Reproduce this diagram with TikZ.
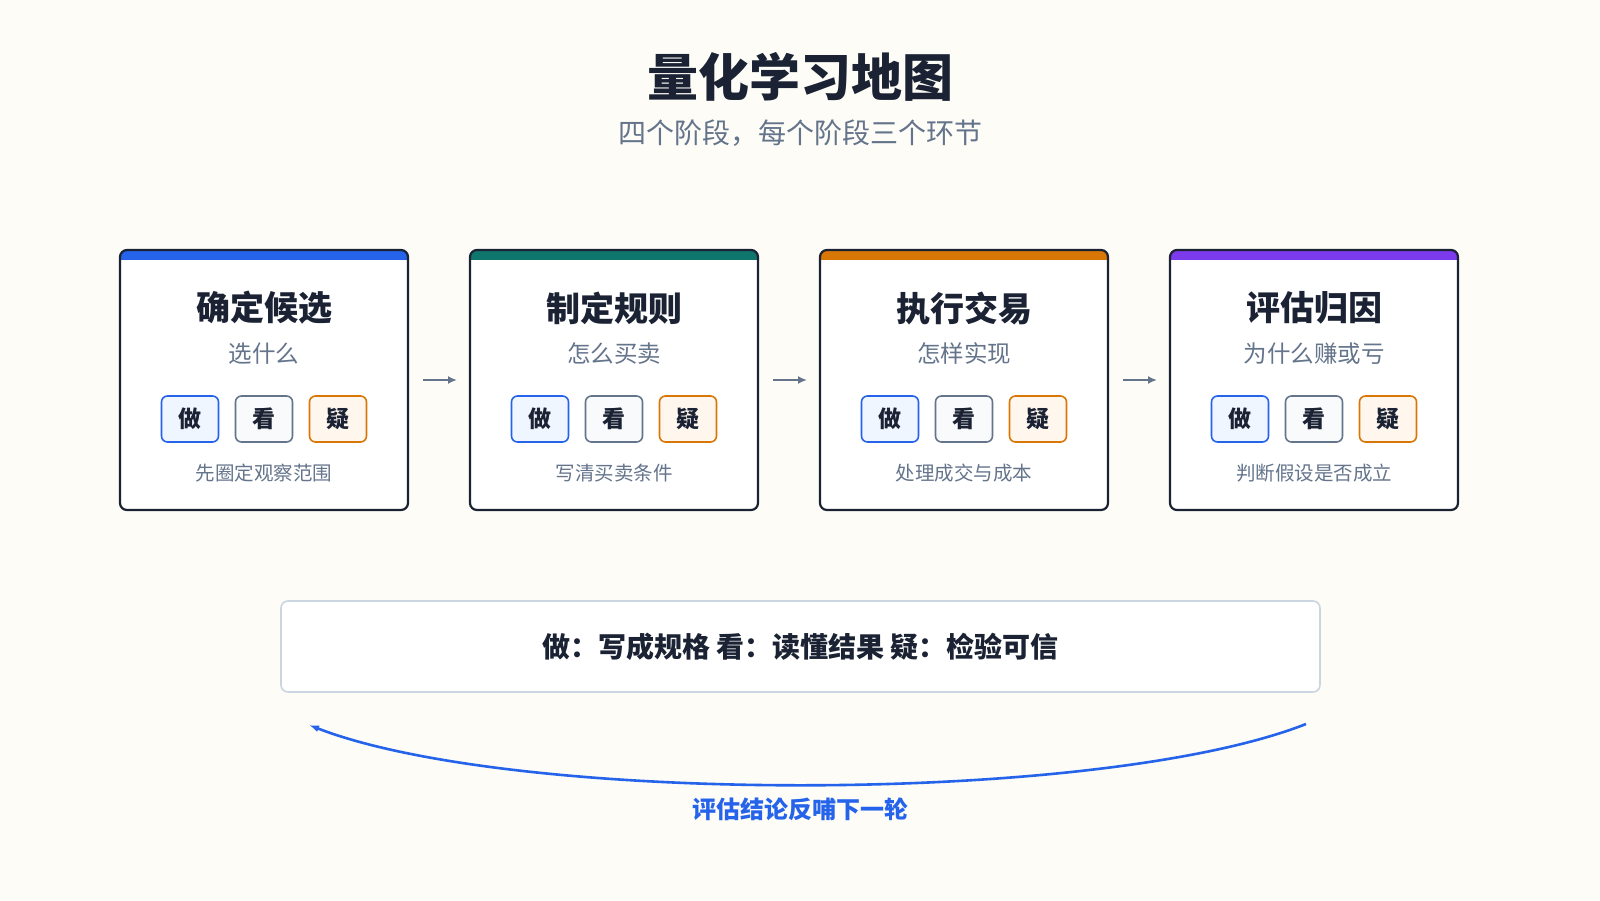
\documentclass[tikz,border=0pt]{standalone}
\usepackage{fontspec}
\setmainfont{Noto Sans CJK SC}
\usetikzlibrary{arrows.meta}
\definecolor{bg}{HTML}{FDFCF7}
\definecolor{ink}{HTML}{1A2233}
\definecolor{sub}{HTML}{64748B}
\definecolor{cA}{HTML}{2563EB}
\definecolor{cB}{HTML}{0F766E}
\definecolor{cC}{HTML}{D97706}
\definecolor{cD}{HTML}{7C3AED}
\definecolor{fA}{HTML}{EFF6FF}
\definecolor{fG}{HTML}{F8FAFC}
\definecolor{fO}{HTML}{FFF7ED}
\definecolor{lineg}{HTML}{CBD5E1}
\begin{document}
\begin{tikzpicture}[x=1pt,y=-1pt,
  badge/.style={draw,line width=1.6pt,rounded corners=6pt,minimum width=57pt,minimum height=46pt,inner sep=0pt,font=\fontsize{23}{23}\selectfont\bfseries,text=ink},
  ttl/.style={font=\fontsize{34}{34}\selectfont\bfseries,text=ink},
  subt/.style={font=\fontsize{23.5}{23.5}\selectfont,text=sub},
  captxt/.style={font=\fontsize{19.5}{19.5}\selectfont,text=sub},
  flow/.style={draw=sub,line width=2.2pt,-{Latex[length=9pt,width=8pt]}}]
\fill[bg] (0,0) rectangle (1600,900);
\useasboundingbox (0,0) rectangle (1600,900);
\node[font=\fontsize{51}{51}\selectfont\bfseries,text=ink] (title) at (800,77) {量化学习地图};
\node[font=\fontsize{28}{28}\selectfont,text=sub] (subtitle) at (800,133) {四个阶段，每个阶段三个环节};
\foreach \i/\x/\col/\t/\s/\c in {1/120/cA/确定候选/选什么/先圈定观察范围,2/470/cB/制定规则/怎么买卖/写清买卖条件,3/820/cC/执行交易/怎样实现/处理成交与成本,4/1170/cD/评估归因/为什么赚或亏/判断假设是否成立}{
  \begin{scope}
    \clip[rounded corners=7pt] (\x,250) rectangle ++(288,260);
    \fill[white] (\x,250) rectangle ++(288,260);
    \fill[\col] (\x,250) rectangle ++(288,10);
  \end{scope}
  \draw[draw=ink,line width=2.2pt,rounded corners=7pt] (\x,250) rectangle ++(288,260);
  \node[ttl] (t\i) at (\x+144,308) {\t};
  \node[subt] (s\i) at (\x+144,354) {\s};
  \node[badge,draw=cA,fill=fA] (d\i) at (\x+70,419) {做};
  \node[badge,draw=sub,fill=fG] (k\i) at (\x+144,419) {看};
  \node[badge,draw=cC,fill=fO] (y\i) at (\x+218,419) {疑};
  \node[captxt] (c\i) at (\x+144,473) {\c};
}
\foreach \a/\x in {1/423,2/773,3/1123}{
  \coordinate (p\a) at (\x,380);
  \coordinate (q\a) at (\x+34,380);
  \draw[flow] (p\a) -- (q\a);
}
\node[draw=lineg,line width=1.6pt,fill=white,rounded corners=7pt,minimum width=1039pt,minimum height=91pt,font=\fontsize{28}{28}\selectfont\bfseries,text=ink] (legend) at (800.5,646.5) {做：写成规格\ 看：读懂结果\ 疑：检验可信};
\coordinate (fs) at (1306,724);
\coordinate (fe) at (309,725);
\draw[cA,line width=2.6pt,-{Latex[length=10pt,width=7pt]}] (fs) .. controls (1100,805) and (515,805) .. (fe);
\node[font=\fontsize{24}{24}\selectfont\bfseries,text=cA] (fb) at (800,809) {评估结论反哺下一轮};
\end{tikzpicture}
\end{document}
